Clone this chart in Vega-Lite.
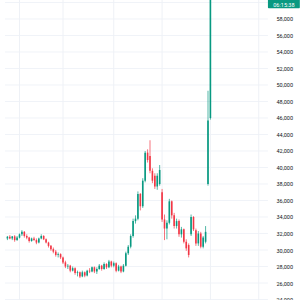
{
  "$schema": "https://vega.github.io/schema/vega-lite/v6.json",
  "width": 300,
  "height": 300,
  "padding": 0,
  "autosize": "none",
  "background": "#ffffff",
  "config": {"view": {"stroke": null}},
  "datasets": {
    "candles": [
      {"i":0,"o":31400,"h":31700,"l":31200,"c":31600},
      {"i":1,"o":31600,"h":31800,"l":31300,"c":31400},
      {"i":2,"o":31400,"h":31700,"l":31200,"c":31650},
      {"i":3,"o":31650,"h":31800,"l":31000,"c":31200},
      {"i":4,"o":31200,"h":31700,"l":31100,"c":31500},
      {"i":5,"o":31500,"h":32000,"l":31400,"c":31900},
      {"i":6,"o":31900,"h":32400,"l":31700,"c":32200},
      {"i":7,"o":32200,"h":32300,"l":31500,"c":31700},
      {"i":8,"o":31700,"h":31900,"l":31300,"c":31500},
      {"i":9,"o":31500,"h":31600,"l":30900,"c":31100},
      {"i":10,"o":31100,"h":31500,"l":31000,"c":31400},
      {"i":11,"o":31400,"h":31600,"l":31100,"c":31200},
      {"i":12,"o":31200,"h":31400,"l":30700,"c":30900},
      {"i":13,"o":30900,"h":31500,"l":30800,"c":31400},
      {"i":14,"o":31400,"h":31900,"l":31300,"c":31700},
      {"i":15,"o":31700,"h":31800,"l":31200,"c":31300},
      {"i":16,"o":31300,"h":31400,"l":30800,"c":30900},
      {"i":17,"o":30900,"h":31000,"l":30300,"c":30500},
      {"i":18,"o":30500,"h":30600,"l":29900,"c":30100},
      {"i":19,"o":30100,"h":30300,"l":29600,"c":29800},
      {"i":20,"o":29800,"h":30000,"l":29200,"c":29400},
      {"i":21,"o":29400,"h":29700,"l":29100,"c":29500},
      {"i":22,"o":29500,"h":29600,"l":28900,"c":29100},
      {"i":23,"o":29100,"h":29200,"l":28300,"c":28500},
      {"i":24,"o":28500,"h":28700,"l":27800,"c":28000},
      {"i":25,"o":28000,"h":28300,"l":27700,"c":28100},
      {"i":26,"o":28100,"h":28200,"l":27300,"c":27500},
      {"i":27,"o":27500,"h":28000,"l":27400,"c":27800},
      {"i":28,"o":27800,"h":27900,"l":27000,"c":27200},
      {"i":29,"o":27200,"h":27500,"l":26800,"c":27300},
      {"i":30,"o":27300,"h":27400,"l":26600,"c":26800},
      {"i":31,"o":26800,"h":27500,"l":26700,"c":27300},
      {"i":32,"o":27300,"h":27400,"l":26700,"c":26900},
      {"i":33,"o":26900,"h":27600,"l":26800,"c":27500},
      {"i":34,"o":27500,"h":27800,"l":27200,"c":27400},
      {"i":35,"o":27400,"h":28000,"l":27300,"c":27900},
      {"i":36,"o":27900,"h":28000,"l":27200,"c":27400},
      {"i":37,"o":27400,"h":27900,"l":27100,"c":27700},
      {"i":38,"o":27700,"h":28300,"l":27600,"c":28100},
      {"i":39,"o":28100,"h":28200,"l":27500,"c":27700},
      {"i":40,"o":27700,"h":28500,"l":27600,"c":28300},
      {"i":41,"o":28300,"h":28400,"l":27700,"c":27900},
      {"i":42,"o":27900,"h":28800,"l":27800,"c":28600},
      {"i":43,"o":28600,"h":28700,"l":27900,"c":28100},
      {"i":44,"o":28100,"h":28600,"l":27900,"c":28400},
      {"i":45,"o":28400,"h":28500,"l":27300,"c":27500},
      {"i":46,"o":27500,"h":28200,"l":27400,"c":28000},
      {"i":47,"o":28000,"h":28100,"l":27200,"c":27400},
      {"i":48,"o":27400,"h":28300,"l":27300,"c":28100},
      {"i":49,"o":28100,"h":29800,"l":28000,"c":29600},
      {"i":50,"o":29600,"h":30600,"l":29400,"c":30400},
      {"i":51,"o":30400,"h":31900,"l":30200,"c":31700},
      {"i":52,"o":31700,"h":33800,"l":31500,"c":33500},
      {"i":53,"o":33500,"h":34200,"l":33200,"c":33800},
      {"i":54,"o":33800,"h":37100,"l":33600,"c":36800},
      {"i":55,"o":36800,"h":36900,"l":34800,"c":35300},
      {"i":56,"o":35300,"h":38700,"l":35100,"c":38400},
      {"i":57,"o":38400,"h":42000,"l":38200,"c":41800},
      {"i":58,"o":41800,"h":42200,"l":40600,"c":40900},
      {"i":59,"o":41400,"h":43300,"l":39300,"c":39600},
      {"i":60,"o":39600,"h":39900,"l":38100,"c":38400},
      {"i":61,"o":39000,"h":39300,"l":37400,"c":37700},
      {"i":62,"o":37700,"h":39300,"l":37300,"c":39000},
      {"i":63,"o":38000,"h":40300,"l":37800,"c":39700},
      {"i":64,"o":37000,"h":37400,"l":33400,"c":33700},
      {"i":65,"o":33700,"h":34300,"l":31200,"c":32600},
      {"i":66,"o":32600,"h":33600,"l":31300,"c":33300},
      {"i":67,"o":33300,"h":36200,"l":33100,"c":35900},
      {"i":68,"o":35900,"h":36000,"l":33800,"c":34200},
      {"i":69,"o":34200,"h":34500,"l":32600,"c":32900},
      {"i":70,"o":32900,"h":33800,"l":32600,"c":33500},
      {"i":71,"o":33500,"h":33700,"l":31600,"c":31900},
      {"i":72,"o":31900,"h":32800,"l":31500,"c":32500},
      {"i":73,"o":32500,"h":32600,"l":30800,"c":31000},
      {"i":74,"o":31000,"h":31300,"l":29900,"c":30200},
      {"i":75,"o":30600,"h":30800,"l":29100,"c":29400},
      {"i":76,"o":31900,"h":34300,"l":31700,"c":34000},
      {"i":77,"o":34000,"h":34100,"l":32300,"c":32500},
      {"i":78,"o":32400,"h":32600,"l":30500,"c":30800},
      {"i":79,"o":30800,"h":32300,"l":30500,"c":32000},
      {"i":80,"o":32000,"h":32200,"l":30200,"c":30400},
      {"i":81,"o":30400,"h":31700,"l":30200,"c":31500},
      {"i":82,"o":31000,"h":32900,"l":30800,"c":32200},
      {"i":83,"o":38000,"h":49300,"l":37800,"c":45700},
      {"i":84,"o":46000,"h":60540,"l":45800,"c":60540}
    ],
    "levels": [
      {"v":24000},{"v":26000},{"v":28000},{"v":30000},{"v":32000},{"v":34000},
      {"v":36000},{"v":38000},{"v":40000},{"v":42000},{"v":44000},{"v":46000},
      {"v":48000},{"v":50000},{"v":52000},{"v":54000},{"v":56000},{"v":58000},{"v":60000}
    ],
    "times": [{"t":5},{"t":23},{"t":44},{"t":64},{"t":84},{"t":104}],
    "tag": [
      {"x0":107.8,"x1":121,"y0":59300,"y1":62500,"xm":114.4,"t1":"60,540","p1":60700,"t2":"06:15:38","p2":59700}
    ]
  },
  "layer": [
    {
      "data": {"name": "levels"},
      "mark": {"type": "rule", "color": "#f0f3f8", "strokeWidth": 1},
      "encoding": {
        "y": {
          "field": "v", "type": "quantitative",
          "scale": {"domain": [23940, 60300], "nice": false, "zero": false},
          "axis": {"orient": "right", "offset": -28, "tickCount": 40, "values": [24000, 26000, 28000, 30000, 32000, 34000, 36000, 38000, 40000, 42000, 44000, 46000, 48000, 50000, 52000, 54000, 56000, 58000], "format": ",d", "grid": false, "ticks": false, "domain": false, "labelPadding": 4, "labelFontSize": 5.5, "labelColor": "#131722", "labelFont": "Roboto", "labelOverlap": false, "labelBound": false, "title": null}
        },
        "x": {"datum": -1, "type": "quantitative", "scale": {"domain": [-1, 119], "nice": false, "zero": false}, "axis": null},
        "x2": {"datum": 107.8}
      }
    },
    {
      "data": {"name": "times"},
      "mark": {"type": "rule", "color": "#eef1f6", "strokeWidth": 1},
      "encoding": {
        "x": {"field": "t", "type": "quantitative"}
      }
    },
    {
      "data": {"name": "candles"},
      "mark": {"type": "rule", "strokeWidth": 0.7},
      "encoding": {
        "x": {"field": "i", "type": "quantitative"},
        "y": {"field": "l", "type": "quantitative"},
        "y2": {"field": "h"},
        "color": {"condition": {"test": "datum.c >= datum.o", "value": "#089981"}, "value": "#f23645"}
      }
    },
    {
      "data": {"name": "candles"},
      "mark": {"type": "bar", "size": 1.6},
      "encoding": {
        "x": {"field": "i", "type": "quantitative"},
        "y": {"field": "o", "type": "quantitative"},
        "y2": {"field": "c"},
        "color": {"condition": {"test": "datum.c >= datum.o", "value": "#089981"}, "value": "#f23645"}
      }
    },
    {
      "data": {"name": "tag"},
      "mark": {"type": "rect", "color": "#089981", "cornerRadius": 1},
      "encoding": {
        "x": {"field": "x0", "type": "quantitative"},
        "x2": {"field": "x1"},
        "y": {"field": "y0", "type": "quantitative"},
        "y2": {"field": "y1"}
      }
    },
    {
      "data": {"name": "tag"},
      "mark": {"type": "text", "color": "#ffffff", "fontSize": 5.5, "font": "Roboto", "align": "center", "baseline": "middle"},
      "encoding": {
        "x": {"field": "xm", "type": "quantitative"},
        "y": {"field": "p2", "type": "quantitative"},
        "text": {"field": "t2"}
      }
    },
    {
      "data": {"name": "tag"},
      "mark": {"type": "text", "color": "#ffffff", "fontSize": 5.5, "font": "Roboto", "align": "center", "baseline": "middle"},
      "encoding": {
        "x": {"field": "xm", "type": "quantitative"},
        "y": {"field": "p1", "type": "quantitative"},
        "text": {"field": "t1"}
      }
    }
  ]
}
